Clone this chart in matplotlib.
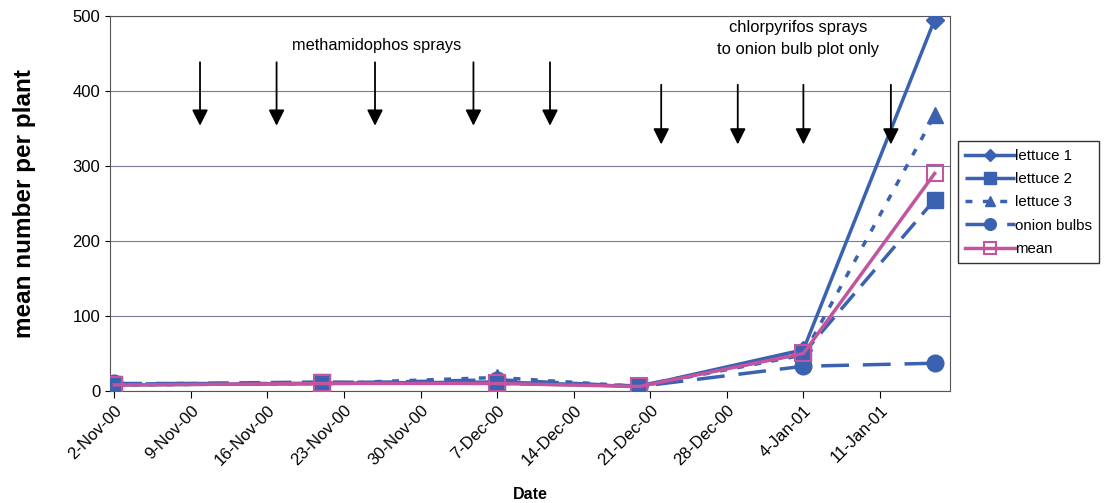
import matplotlib
matplotlib.use("Agg")
import matplotlib.pyplot as plt
import pandas as pd
import numpy as np

plt.rcParams['font.family'] = ['Liberation Sans', 'DejaVu Sans']

dates = ["2000-11-02", "2000-11-21", "2000-12-07", "2000-12-20", "2001-01-04", "2001-01-16"]
lettuce1 = [8, 10, 12, 6, 55, 495]
lettuce2 = [9, 12, 10, 7, 50, 255]
lettuce3 = [8, 10, 18, 6, 48, 368]
onion_bulbs = [10, 10, 15, 6, 33, 37]
mean_vals = [8, 10, 10, 6, 50, 290]

tick_dates = ["2000-11-02", "2000-11-09", "2000-11-16", "2000-11-23", "2000-11-30", "2000-12-07",
              "2000-12-14", "2000-12-21", "2000-12-28", "2001-01-04", "2001-01-11"]
tick_labels = ["2-Nov-00", "9-Nov-00", "16-Nov-00", "23-Nov-00", "30-Nov-00", "7-Dec-00",
               "14-Dec-00", "21-Dec-00", "28-Dec-00", "4-Jan-01", "11-Jan-01"]
metham_sprays = ["2000-11-09 20:00", "2000-11-16 20:00", "2000-11-25 20:00", "2000-12-04 20:00", "2000-12-11 20:00"]
chlor_sprays = ["2000-12-22", "2000-12-29", "2001-01-04", "2001-01-12"]

d0 = pd.Timestamp("2000-11-02")
def days(lst):
    return np.array([(pd.Timestamp(d) - d0) / pd.Timedelta(days=1) for d in lst], dtype=float)

x = days(dates)
blue = "#3a62b0"
pink = "#c2559e"

fig = plt.figure(figsize=(11.13, 5.03), dpi=100)
ax = fig.add_axes([0.0988, 0.2227, 0.7547, 0.7455])

ax.plot(x, lettuce1, color=blue, lw=2.5, marker='D', ms=9, label='lettuce 1', zorder=3)
ax.plot(x, lettuce2, color=blue, lw=2.5, ls=(0, (6, 3)), marker='s', ms=12, label='lettuce 2', zorder=3)
ax.plot(x, lettuce3, color=blue, lw=2.5, ls=(0, (2, 3)), marker='^', ms=11, label='lettuce 3', zorder=3)
ax.plot(x, onion_bulbs, color=blue, lw=2.5, ls=(0, (8, 4)), marker='o', ms=12, label='onion bulbs', zorder=3)
ax.plot(x, mean_vals, color=pink, lw=2.5, marker='s', ms=12, mfc='none', mec=pink, mew=1.5, label='mean', zorder=4)

for d in days(metham_sprays):
    ax.annotate('', xy=(d, 350), xytext=(d, 442),
                arrowprops=dict(arrowstyle='-|>', color='black', lw=1.3, mutation_scale=24))
for d in days(chlor_sprays):
    ax.annotate('', xy=(d, 325), xytext=(d, 412),
                arrowprops=dict(arrowstyle='-|>', color='black', lw=1.3, mutation_scale=24))

ax.text(days(["2000-11-26"])[0], 460, 'methamidophos sprays', ha='center', va='center', fontsize=11.8)
ax.text(days(["2001-01-03 12:00"])[0], 470, 'chlorpyrifos sprays\nto onion bulb plot only', ha='center',
        va='center', fontsize=11.9, linespacing=1.55)

ax.set_xlim(-0.4, 76.4)
ax.set_ylim(0, 500)
ax.set_yticks([0, 100, 200, 300, 400, 500])
ax.yaxis.grid(True, color='#7a7aa0', lw=0.8)
ax.set_axisbelow(True)
ax.set_xticks(days(tick_dates))
ax.set_xticklabels(tick_labels, rotation=45, ha='right', rotation_mode='anchor', fontsize=12)
ax.tick_params(axis='y', labelsize=12)
ax.tick_params(axis='x', length=5)
for s in ax.spines.values():
    s.set_color('#555555')
ax.set_ylabel('mean number per plant', fontsize=17.5, fontweight='bold', labelpad=26)
ax.set_xlabel('Date', fontsize=11.5, fontweight='bold', labelpad=13)

leg = ax.legend(loc='center left', bbox_to_anchor=(1.0095, 0.503), borderaxespad=0, fontsize=10.8,
                frameon=True, fancybox=False, edgecolor='black', handlelength=3.3, handletextpad=0.0,
                borderpad=0.5, labelspacing=0.62, markerscale=0.7)
leg.get_frame().set_linewidth(1.0)

fig.savefig('out.png', dpi=100)
